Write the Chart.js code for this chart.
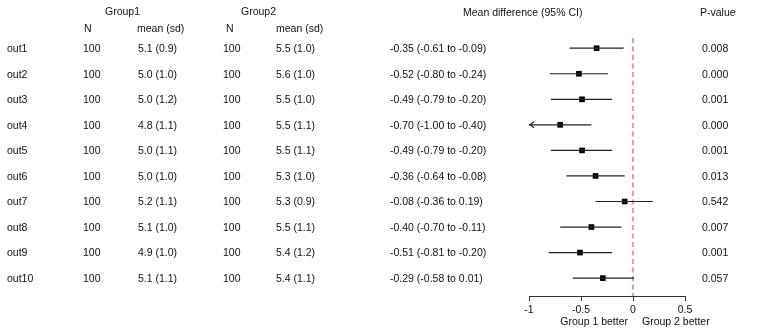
<!DOCTYPE html>
<html>
<head>
<meta charset="utf-8">
<script src="https://cdn.jsdelivr.net/npm/chart.js@4/dist/chart.umd.min.js"></script>
<style>
	html, body { margin: 0; padding: 0; background: #fff; }
	#wrap { width: 768px; height: 336px; }
</style>
</head>
<body>
<div id="wrap"><canvas id="forest" width="768" height="336"></canvas></div>
<script>
// data
const outcomes = ['out1', 'out2', 'out3', 'out4', 'out5', 'out6', 'out7', 'out8', 'out9', 'out10'];
const group1N = [100, 100, 100, 100, 100, 100, 100, 100, 100, 100];
const group1Mean = ['5.1 (0.9)', '5.0 (1.0)', '5.0 (1.2)', '4.8 (1.1)', '5.0 (1.1)', '5.0 (1.0)', '5.2 (1.1)', '5.1 (1.0)', '4.9 (1.0)', '5.1 (1.1)'];
const group2N = [100, 100, 100, 100, 100, 100, 100, 100, 100, 100];
const group2Mean = ['5.5 (1.0)', '5.6 (1.0)', '5.5 (1.0)', '5.5 (1.1)', '5.5 (1.1)', '5.3 (1.0)', '5.3 (0.9)', '5.5 (1.1)', '5.4 (1.2)', '5.4 (1.1)'];
const meanDiff = [-0.35, -0.52, -0.49, -0.70, -0.49, -0.36, -0.08, -0.40, -0.51, -0.29];
const ciLow = [-0.61, -0.80, -0.79, -1.00, -0.79, -0.64, -0.36, -0.70, -0.81, -0.58];
const ciHigh = [-0.09, -0.24, -0.20, -0.40, -0.20, -0.08, 0.19, -0.11, -0.20, 0.01];
const pValues = ['0.008', '0.000', '0.001', '0.000', '0.001', '0.013', '0.542', '0.007', '0.001', '0.057'];
const xTicks = [-1, -0.5, 0, 0.5];
const xMin = -1;
const xMax = 0.5;

Chart.defaults.font.family = '"Liberation Sans", Arial, sans-serif';
Chart.defaults.font.size = 10.5;
Chart.defaults.color = '#000';

function fmt(v) {
	return (v < 0 ? '-' : '') + Math.abs(v).toFixed(2);
}

// one line per CI, clipped to axis
let datasets = outcomes.map(function(name, i) {
	return {
		label: name,
		data: [{x: Math.max(ciLow[i], xMin), y: i + 1}, {x: Math.min(ciHigh[i], xMax), y: i + 1}],
		showLine: true,
		borderColor: '#222',
		borderWidth: 1.2,
		pointRadius: 0
	};
});
datasets.push({
	label: 'mean',
	data: meanDiff.map(function(v, i) { return {x: v, y: i + 1}; }),
	pointStyle: 'rect',
	pointRadius: 4,
	backgroundColor: '#000',
	borderColor: '#000',
	borderWidth: 0
});

const tablePlugin = {
	id: 'table',
	beforeDatasetsDraw: function(chart) {
		const ctx = chart.ctx;
		const area = chart.chartArea;
		const x0 = chart.scales.x.getPixelForValue(0);
		ctx.save();
		ctx.strokeStyle = '#d8607a';
		ctx.lineWidth = 1.2;
		ctx.setLineDash([5, 3.5]);
		ctx.beginPath();
		ctx.moveTo(x0, area.top);
		ctx.lineTo(x0, area.bottom);
		ctx.stroke();
		ctx.restore();
	},
	afterDraw: function(chart) {
		const ctx = chart.ctx;
		const sx = chart.scales.x;
		const sy = chart.scales.y;
		ctx.save();
		ctx.fillStyle = '#111';
		ctx.font = '10.5px "Liberation Sans", Arial, sans-serif';
		ctx.textBaseline = 'middle';
		ctx.textAlign = 'left';

		// headers
		ctx.fillText('Group1', 105, 12);
		ctx.fillText('Group2', 241, 12);
		ctx.fillText('N', 84, 29);
		ctx.fillText('mean (sd)', 137, 29);
		ctx.fillText('N', 226, 29);
		ctx.fillText('mean (sd)', 276, 29);
		ctx.fillText('Mean difference (95% CI)', 463, 13);
		ctx.fillText('P-value', 700, 13);

		outcomes.forEach(function(name, i) {
			const y = sy.getPixelForValue(i + 1) + 1;
			ctx.fillText(name, 7, y);
			ctx.fillText(String(group1N[i]), 83, y);
			ctx.fillText(group1Mean[i], 138, y);
			ctx.fillText(String(group2N[i]), 223, y);
			ctx.fillText(group2Mean[i], 276, y);
			ctx.fillText(fmt(meanDiff[i]) + ' (' + fmt(ciLow[i]) + ' to ' + fmt(ciHigh[i]) + ')', 390, y);
			ctx.fillText(pValues[i], 702, y);
		});

		// arrow heads where CI runs off the axis
		ctx.strokeStyle = '#222';
		ctx.lineWidth = 1.2;
		outcomes.forEach(function(name, i) {
			const y = sy.getPixelForValue(i + 1);
			if (ciLow[i] <= xMin) {
				const ax = sx.getPixelForValue(xMin) + 1;
				ctx.beginPath();
				ctx.moveTo(ax + 4, y - 3);
				ctx.lineTo(ax, y);
				ctx.lineTo(ax + 4, y + 3);
				ctx.stroke();
			}
			if (ciHigh[i] >= xMax) {
				const ax = sx.getPixelForValue(xMax) - 1;
				ctx.beginPath();
				ctx.moveTo(ax - 4, y - 3);
				ctx.lineTo(ax, y);
				ctx.lineTo(ax - 4, y + 3);
				ctx.stroke();
			}
		});

		// direction labels under the axis
		const x0 = sx.getPixelForValue(0);
		ctx.textAlign = 'right';
		ctx.fillText('Group 1 better', x0 - 5, 322);
		ctx.textAlign = 'left';
		ctx.fillText('Group 2 better', x0 + 9, 322);
		ctx.restore();
	}
};

let forest = new Chart(document.getElementById('forest'), {
	type: 'scatter',
	data: {datasets: datasets},
	options: {
		responsive: false,
		animation: false,
		layout: {padding: {left: 529, right: 83, top: 38, bottom: 0}},
		plugins: {legend: {display: false}, tooltip: {enabled: false}},
		scales: {
			x: {
				type: 'linear',
				min: xMin,
				max: xMax,
				afterFit: function(scale) {
					scale.height = 40;
				},
				afterBuildTicks: function(scale) {
					scale.ticks = xTicks.map(function(v) { return {value: v}; });
				},
				ticks: {
					padding: 3,
					color: '#111',
					callback: function(value) {
						return String(value);
					}
				},
				grid: {drawOnChartArea: false, drawTicks: true, tickLength: 5, color: '#333'},
				border: {display: true, color: '#333', width: 1}
			},
			y: {
				type: 'linear',
				reverse: true,
				min: 0.6,
				max: 10.7,
				display: false
			}
		}
	},
	plugins: [tablePlugin]
});
</script>
</body>
</html>
